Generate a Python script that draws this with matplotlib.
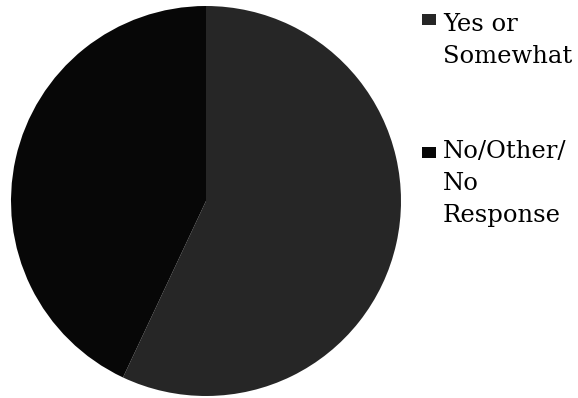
import matplotlib
matplotlib.use("Agg")
import matplotlib.pyplot as plt
from matplotlib.patches import Rectangle

# Survey responses (percent of respondents)
categories = ["Yes or Somewhat", "No/Other/No Response"]
legend_labels = ["Yes or\nSomewhat", "No/Other/\nNo\nResponse"]
shares = [57, 43]
colors = ["#262626", "#070707"]

W, H = 578, 398
fig = plt.figure(figsize=(W / 100, H / 100), dpi=100)
fig.patch.set_facecolor("white")

# Pie area: centre (206, 201) px, radius 195 px
cx, cy, r = 206, 201, 195
ax = fig.add_axes([(cx - r) / W, 1 - (cy + r) / H, 2 * r / W, 2 * r / H])
ax.pie(shares, colors=colors, startangle=90, counterclock=False,
       radius=1.0, wedgeprops=dict(linewidth=0))
ax.set_xlim(-1, 1)
ax.set_ylim(-1, 1)
ax.set_aspect("equal")
ax.axis("off")

# Legend drawn at the right side
font = dict(family="DejaVu Serif", size=17.5, color="black")
entries_top = [13, 140]      # top of each label block, px
marker_top = [14, 147]       # top of each legend swatch, px
for label, col, yt, ym in zip(legend_labels, colors, entries_top, marker_top):
    fig.patches.append(Rectangle((422 / W, 1 - (ym + 11) / H), 14 / W, 11 / H,
                                 transform=fig.transFigure, facecolor=col,
                                 edgecolor="none"))
    fig.text(443 / W, 1 - yt / H, label, ha="left", va="top",
             linespacing=1.5, **font)

fig.savefig("out.png", dpi=100, facecolor="white")
